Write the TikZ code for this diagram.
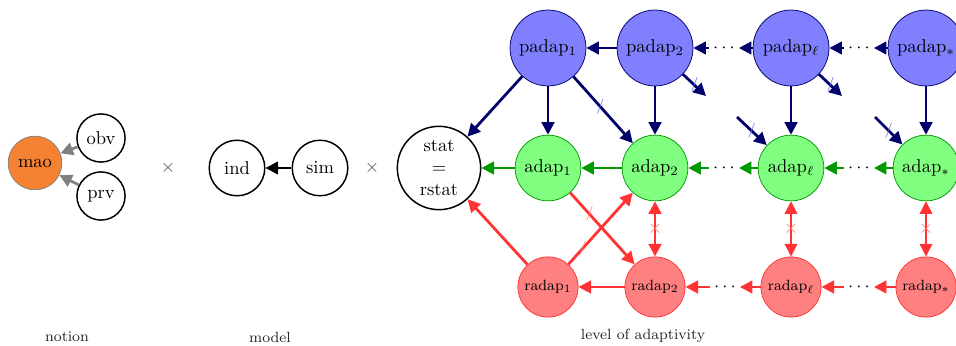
\documentclass[tikz,border=0pt]{standalone}
\usetikzlibrary{arrows.meta}
\definecolor{navyc}{rgb}{0,0,0.42}
\definecolor{greenc}{rgb}{0,0.6,0}
\definecolor{redc}{rgb}{1,0.2,0.2}
\definecolor{maoc}{HTML}{F58233}
\begin{document}
\begin{tikzpicture}[x=0.54pt,y=-0.54pt,
  base/.style={circle, inner sep=0pt, align=center},
  plain/.style={base, draw=black, fill=white, thick},
  padapnode/.style={base, draw=navyc, fill=blue!50, minimum size=41pt},
  adapnode/.style={base, draw=greenc, fill=green!50, minimum size=35.5pt},
  radapnode/.style={base, draw=redc, fill=red!50, minimum size=32.5pt, font=\footnotesize},
  dotsnode/.style={inner sep=2pt},
  tip/.style={-{Triangle[length=6.8pt,width=6.8pt]}},
  dtip/.style={{Triangle[length=6.8pt,width=6.8pt]}-{Triangle[length=6.8pt,width=6.8pt]}},
  navyarrow/.style={tip, draw=navyc, line width=1.5pt},
  greenarrow/.style={tip, draw=greenc, line width=1.5pt},
  redarrow/.style={tip, draw=redc, line width=1.5pt},
  grayarrow/.style={tip, draw=gray, line width=1.5pt},
  blackarrow/.style={tip, draw=black, line width=1.5pt},
  slashmark/.style={inner sep=0pt, font=\footnotesize},
  crossmark/.style={inner sep=0pt, text=red!55},
  caption/.style={font=\footnotesize, text=black!85}
]
\useasboundingbox (0,0) rectangle (956,345);

% notion
\node[base, draw=gray, fill=maoc, minimum size=29pt] (mao) at (35,163) {mao};
\node[plain, minimum size=26pt] (obv) at (101,138) {obv};
\node[plain, minimum size=26pt] (prv) at (101,196) {prv};
\draw[grayarrow] (obv) -- (mao);
\draw[grayarrow] (prv) -- (mao);
\node[text=black!70] (times1) at (168,168) {$\times$};

% model
\node[plain, minimum size=30pt] (ind) at (237,168) {ind};
\node[plain, minimum size=30pt] (sim) at (320,168) {sim};
\draw[blackarrow] (sim) -- (ind);
\node[text=black!70] (times2) at (372,168) {$\times$};

% level of adaptivity
\node[plain, minimum size=45pt] (stat) at (439,168) {stat\\$=$\\rstat};

\node[padapnode] (p1) at (548,48) {padap$_1$};
\node[padapnode] (p2) at (655,48) {padap$_2$};
\node[padapnode] (pl) at (791,48) {padap$_\ell$};
\node[padapnode] (ps) at (926,48) {padap$_*$};

\node[adapnode] (a1) at (548,168) {adap$_1$};
\node[adapnode] (a2) at (655,168) {adap$_2$};
\node[adapnode] (al) at (791,168) {adap$_\ell$};
\node[adapnode] (as) at (926,168) {adap$_*$};

\node[radapnode] (r1) at (548,287) {radap$_1$};
\node[radapnode] (r2) at (655,287) {radap$_2$};
\node[radapnode] (rl) at (791,287) {radap$_\ell$};
\node[radapnode] (rs) at (926,287) {radap$_*$};

\node[dotsnode] (pd1) at (724,48) {$\cdots$};
\node[dotsnode] (pd2) at (859,48) {$\cdots$};
\node[dotsnode] (ad1) at (724,168) {$\cdots$};
\node[dotsnode] (ad2) at (859,168) {$\cdots$};
\node[dotsnode] (rd1) at (725,287) {$\cdots$};
\node[dotsnode] (rd2) at (859,287) {$\cdots$};

% padap row
\draw[navyarrow] (p2) -- (p1);
\draw[navyarrow] (pl) -- (pd1);
\draw[navyarrow] (pd1) -- (p2);
\draw[navyarrow] (ps) -- (pd2);
\draw[navyarrow] (pd2) -- (pl);

% padap to lower rows
\draw[navyarrow] (p1) -- (stat);
\draw[navyarrow] (p1) -- (a2) node[slashmark, text=blue!60, pos=0.45] {$/$};
\draw[navyarrow] (p1) -- (a1);
\draw[navyarrow] (p2) -- (a2);
\draw[navyarrow] (pl) -- (al);
\draw[navyarrow] (ps) -- (as);

\coordinate (out2) at (706,96);
\coordinate (outl) at (842,96);
\coordinate (inl) at (737,117);
\coordinate (ins) at (875,117);
\draw[navyarrow] (p2) -- (out2) node[slashmark, text=blue!60, pos=0.5] {$/$};
\draw[navyarrow] (pl) -- (outl) node[slashmark, text=blue!60, pos=0.5] {$/$};
\draw[navyarrow] (inl) -- (al) node[slashmark, text=blue!60, pos=0.5] {$/$};
\draw[navyarrow] (ins) -- (as) node[slashmark, text=blue!60, pos=0.5] {$/$};

% adap row
\draw[greenarrow] (a1) -- (stat);
\draw[greenarrow] (a2) -- (a1);
\draw[greenarrow] (al) -- (ad1);
\draw[greenarrow] (ad1) -- (a2);
\draw[greenarrow] (as) -- (ad2);
\draw[greenarrow] (ad2) -- (al);

% radap row
\draw[redarrow] (r2) -- (r1);
\draw[redarrow] (rl) -- (rd1);
\draw[redarrow] (rd1) -- (r2);
\draw[redarrow] (rs) -- (rd2);
\draw[redarrow] (rd2) -- (rl);
\draw[redarrow] (r1) -- (stat);
\draw[redarrow] (r1) -- (a2) node[slashmark, text=red!50, pos=0.22] {$/$};
\draw[redarrow] (a1) -- (r2) node[slashmark, text=red!50, pos=0.3] {$/$};

% separations between adap and radap
\draw[dtip, draw=redc, line width=1.5pt] (a2) -- (r2) node[crossmark, midway] {$\times$};
\draw[dtip, draw=redc, line width=0.7pt] (al) -- (rl) node[crossmark, midway] {$\times$};
\draw[dtip, draw=redc, line width=0.7pt] (as) -- (rs) node[crossmark, midway] {$\times$};

% captions
\node[caption] (cap1) at (67,337) {notion};
\node[caption] (cap2) at (270,337) {model};
\node[caption] (cap3) at (643,336) {level of adaptivity};
\end{tikzpicture}
\end{document}
